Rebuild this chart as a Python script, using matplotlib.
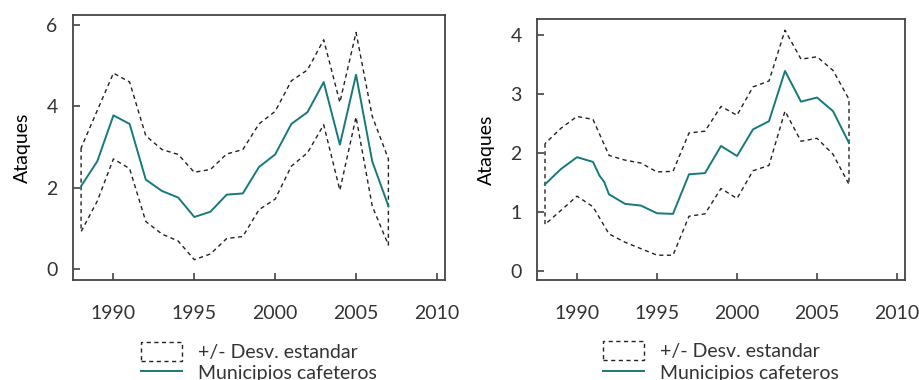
import matplotlib.pyplot as plt

plt.rcParams["font.family"] = ["Lato", "DejaVu Sans"]
plt.rcParams["text.color"] = "#333333"
plt.rcParams["xtick.color"] = "#333333"
plt.rcParams["ytick.color"] = "#333333"

years = [1988, 1989, 1990, 1991, 1992, 1993, 1994, 1995, 1996, 1997,
         1998, 1999, 2000, 2001, 2002, 2003, 2004, 2005, 2006, 2007]

# panel A
mean_a = [2.04, 2.65, 3.78, 3.57, 2.20, 1.92, 1.76, 1.28, 1.41, 1.83,
          1.86, 2.51, 2.82, 3.57, 3.86, 4.60, 3.06, 4.78, 2.65, 1.55]
upper_a = [2.98, 3.90, 4.82, 4.60, 3.28, 2.94, 2.82, 2.38, 2.45, 2.83,
           2.94, 3.57, 3.88, 4.63, 4.90, 5.64, 4.10, 5.82, 3.76, 2.71]
lower_a = [0.92, 1.67, 2.71, 2.47, 1.17, 0.86, 0.69, 0.23, 0.37, 0.75,
           0.80, 1.46, 1.72, 2.53, 2.86, 3.55, 1.94, 3.74, 1.55, 0.59]

# panel B
mean_b_x = [1988, 1989, 1990, 1991, 1991.4, 1991.7, 1992, 1993, 1994, 1995,
            1996, 1997, 1998, 1999, 2000, 2001, 2002, 2003, 2004, 2005,
            2006, 2007]
mean_b = [1.47, 1.73, 1.93, 1.85, 1.62, 1.51, 1.30, 1.14, 1.11, 0.98,
          0.97, 1.64, 1.66, 2.12, 1.95, 2.40, 2.54, 3.39, 2.87, 2.94,
          2.71, 2.17]
upper_b = [2.16, 2.42, 2.62, 2.57, 1.96, 1.88, 1.83, 1.68, 1.69, 2.34,
           2.37, 2.79, 2.64, 3.12, 3.22, 4.08, 3.59, 3.63, 3.40, 2.91]
lower_b = [0.79, 1.03, 1.27, 1.09, 0.63, 0.49, 0.38, 0.27, 0.27, 0.93,
           0.97, 1.40, 1.23, 1.70, 1.79, 2.71, 2.20, 2.25, 1.98, 1.47]

TEAL = "#17797b"

fig = plt.figure(figsize=(9.2, 3.8), dpi=100)
ax1 = fig.add_axes([73 / 920, 100 / 380, 372 / 920, 265 / 380])
ax2 = fig.add_axes([537 / 920, 100 / 380, 368 / 920, 261 / 380])


def draw_panel(ax, mx, m, up, lo, ylim, yticks):
    ax.fill_between(years, lo, up, facecolor="none", edgecolor="#222222",
                    linestyle=(0, (3, 2.5)), linewidth=1.0,
                    label="+/- Desv. estandar")
    ax.plot(mx, m, color=TEAL, linewidth=1.4, label="Municipios cafeteros")
    ax.set_xlim(1987.5, 2010.5)
    ax.set_ylim(*ylim)
    ax.set_xticks([1990, 1995, 2000, 2005, 2010])
    ax.set_yticks(yticks)
    ax.tick_params(direction="in", length=5, width=1.1, labelsize=14,
                   top=False, right=False)
    ax.tick_params(axis="x", pad=18)
    ax.tick_params(axis="y", pad=11)
    for s in ax.spines.values():
        s.set_color("#444444")
        s.set_linewidth(1.3)
    ax.set_ylabel("Ataques", fontsize=14, labelpad=11)
    ax.legend(loc="upper center", bbox_to_anchor=(0.5, -0.198), frameon=False,
              fontsize=14, borderpad=0, handlelength=2.1, handleheight=1.1,
              labelspacing=0.12, handletextpad=0.85)


draw_panel(ax1, years, mean_a, upper_a, lower_a, (-0.27, 6.25), [0, 2, 4, 6])
draw_panel(ax2, mean_b_x, mean_b, upper_b, lower_b, (-0.15, 4.27),
           [0, 1, 2, 3, 4])

fig.savefig("out.png", dpi=100)
